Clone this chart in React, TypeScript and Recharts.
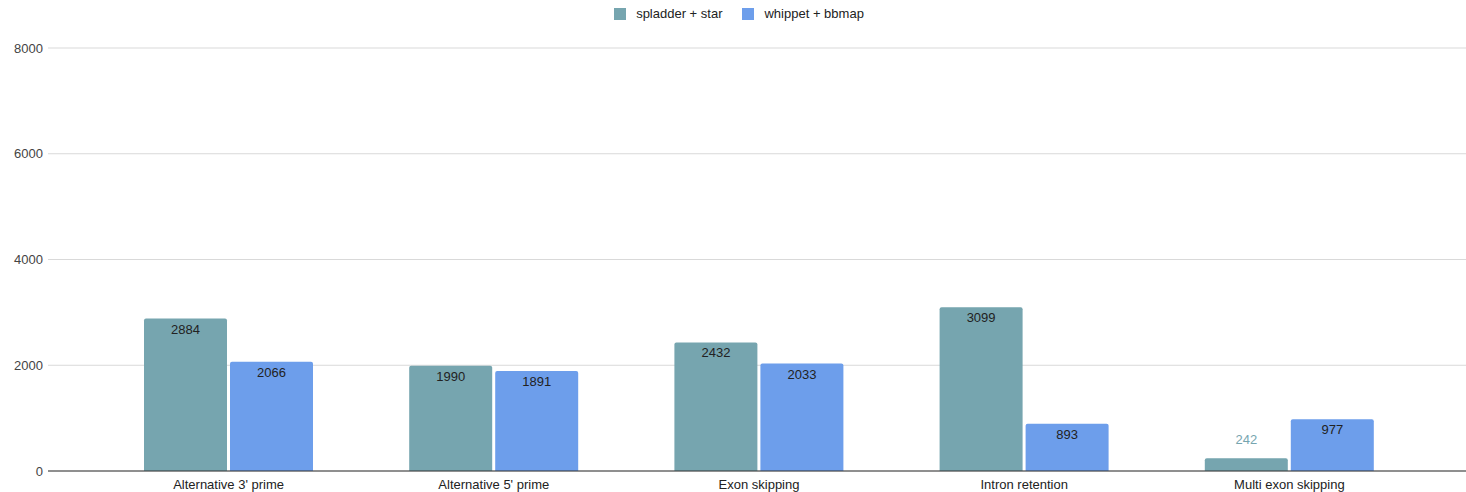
import React from 'react';
import { BarChart, Bar, CartesianGrid, XAxis, YAxis, Legend, LabelList } from 'recharts';

const categories = ['Alternative 3\' prime', 'Alternative 5\' prime', 'Exon skipping', 'Intron retention', 'Multi exon skipping'];
const spladderStar = [2884, 1990, 2432, 3099, 242];
const whippetBbmap = [2066, 1891, 2033, 893, 977];
const yTicks = [0, 2000, 4000, 6000, 8000];

const TEAL = '#76a5af';
const BLUE = '#6d9eeb';

const data = categories.map((name, i) => ({
    name,
    spladder: spladderStar[i],
    whippet: whippetBbmap[i],
}));

const makeLabel = (color: string) => (props: any) => {
    const { x, y, width, height, value } = props;
    const cx = x + width / 2;
    // small bars get the label above the bar, in the bar's colour
    if (height < 30) {
        return (
            <text x={cx} y={y - 14} textAnchor="middle" fill={color} fontSize={13}>
                {value}
            </text>
        );
    }
    return (
        <text x={cx} y={y + 15} textAnchor="middle" fill="#222" fontSize={13}>
            {value}
        </text>
    );
};

const renderLegend = (props: any) => {
    const { payload } = props;
    return (
        <div style={{ display: 'flex', justifyContent: 'center', gap: 20, fontSize: 13, color: '#222', marginLeft: 12 }}>
            {payload.map((p: any) => (
                <div key={p.value} style={{ display: 'flex', alignItems: 'center' }}>
                    <span style={{ display: 'inline-block', width: 12, height: 12, background: p.color, marginRight: 10 }} />
                    <span>{p.value}</span>
                </div>
            ))}
        </div>
    );
};

const App: React.FC = () => {
    return (
        <div style={{ position: 'absolute', left: 0, top: 0, fontFamily: 'Arial, "Liberation Sans", sans-serif' }}>
            <BarChart
                width={1466}
                height={492}
                data={data}
                margin={{ top: 33, right: 0, left: 0, bottom: 0 }}
                barGap={3}
                barSize={83}
            >
                <CartesianGrid vertical={false} stroke="#d9d9d9" />
                <XAxis
                    dataKey="name"
                    height={21}
                    padding={{ left: 48, right: 44 }}
                    axisLine={{ stroke: '#333' }}
                    tickLine={false}
                    tick={{ fill: '#222', fontSize: 13 }}
                    tickMargin={3}
                    interval={0}
                />
                <YAxis
                    width={48}
                    domain={[0, 8000]}
                    ticks={yTicks}
                    axisLine={false}
                    tickLine={false}
                    tickSize={3}
                    tickMargin={2}
                    tick={{ fill: '#444', fontSize: 13 }}
                />
                <Legend
                    verticalAlign="top"
                    align="center"
                    content={renderLegend}
                    wrapperStyle={{ top: 6, left: 0, width: 1466 }}
                />
                <Bar dataKey="spladder" name="spladder + star" fill={TEAL} radius={[2, 2, 0, 0]} isAnimationActive={false}>
                    <LabelList dataKey="spladder" content={makeLabel(TEAL)} />
                </Bar>
                <Bar dataKey="whippet" name="whippet + bbmap" fill={BLUE} radius={[2, 2, 0, 0]} isAnimationActive={false}>
                    <LabelList dataKey="whippet" content={makeLabel(BLUE)} />
                </Bar>
            </BarChart>
        </div>
    );
};

export default App;
